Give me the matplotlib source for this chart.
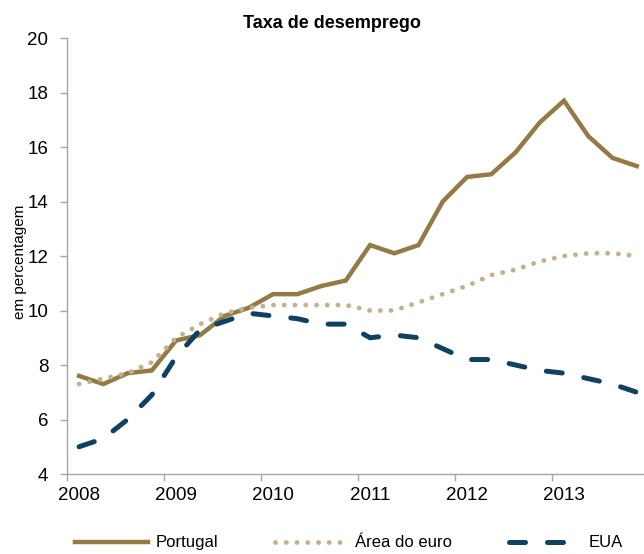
import matplotlib.pyplot as plt
from matplotlib import font_manager
import numpy as np

# quarterly data, 2008Q1 - 2013Q4
years = ['2008', '2009', '2010', '2011', '2012', '2013']
portugal = [7.6, 7.3, 7.7, 7.8, 8.9, 9.1, 9.8, 10.1,
            10.6, 10.6, 10.9, 11.1, 12.4, 12.1, 12.4, 14.0,
            14.9, 15.0, 15.8, 16.9, 17.7, 16.4, 15.6, 15.3]
area_euro = [7.3, 7.5, 7.7, 8.1, 9.0, 9.5, 9.9, 10.1,
             10.2, 10.2, 10.2, 10.2, 10.0, 10.0, 10.3, 10.6,
             10.9, 11.3, 11.5, 11.8, 12.0, 12.1, 12.1, 12.0]
eua = [5.0, 5.3, 6.0, 6.9, 8.3, 9.3, 9.6, 9.9,
       9.8, 9.7, 9.5, 9.5, 9.0, 9.1, 9.0, 8.6,
       8.2, 8.2, 8.0, 7.8, 7.7, 7.5, 7.3, 7.0]

plt.rcParams['font.family'] = ['Liberation Sans', 'DejaVu Sans']

# title is a narrow bold face in the original
try:
    font_manager.findfont('Liberation Sans Narrow', fallback_to_default=False)
    title_font, title_size = 'Liberation Sans Narrow', 16
except Exception:
    title_font, title_size = 'Liberation Sans', 13

c_pt = '#947A45'
c_eu = '#C4B08C'
c_us = '#0E4260'
grey = '#A6A6A6'

x = np.arange(len(portugal))

fig = plt.figure(figsize=(6.44, 5.54), dpi=100)
ax = fig.add_axes([0.104, 0.1444, 0.896, 0.787])

ax.plot(x, portugal, color=c_pt, lw=3.2, solid_joinstyle='miter', label='Portugal')
ax.plot(x, area_euro, color=c_eu, lw=3.5, linestyle=(0, (0.01, 2.2)),
        dash_capstyle='round', label='Área do euro')
ax.plot(x, eua, color=c_us, lw=3.6, linestyle=(0, (3.2, 4.4)),
        dash_capstyle='round', label='EUA')

ax.set_xlim(-0.5, 23.3)
ax.set_ylim(4, 20)
ax.set_yticks(np.arange(4, 21, 2))

# tick marks on year boundaries, labels under first quarter
ax.set_xticks(np.arange(len(years)) * 4 - 0.5)
ax.set_xticklabels([])
ax.set_xticks(np.arange(len(years)) * 4, minor=True)
ax.set_xticklabels(years, minor=True)
ax.tick_params(axis='x', which='minor', length=0, pad=9, labelsize=13.5)
ax.tick_params(axis='x', which='major', length=5, color=grey, width=1)
ax.tick_params(axis='y', length=5, color=grey, width=1, pad=8.5, labelsize=13.5)

for s in ['top', 'right']:
    ax.spines[s].set_visible(False)
for s in ['left', 'bottom']:
    ax.spines[s].set_color(grey)
    ax.spines[s].set_linewidth(1)

fig.text(0.516, 0.957, 'Taxa de desemprego', ha='center', va='center',
         fontsize=title_size, fontweight='bold', family=title_font)
fig.text(0.031, 0.527, 'em percentagem', rotation=90, ha='center', va='center',
         fontsize=11)

fig.legend(loc='center', bbox_to_anchor=(0.542, 0.02), ncol=3, frameon=False,
           fontsize=12, handlelength=4.4, handletextpad=0.42, columnspacing=3.4)

fig.savefig('out.png', dpi=100)
